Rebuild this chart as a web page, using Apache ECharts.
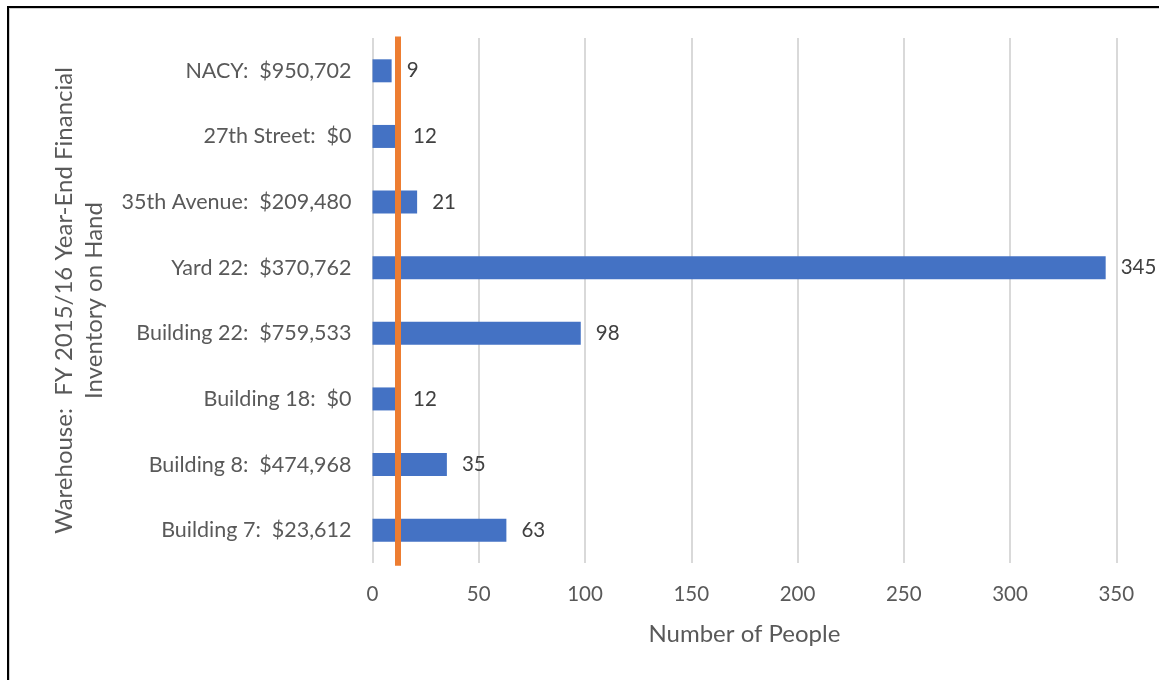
<!DOCTYPE html>
<html>
<head>
<meta charset="utf-8">
<script src="https://cdn.jsdelivr.net/npm/echarts@6/dist/echarts.min.js"></script>
<style>
  html, body { margin: 0; padding: 0; background: #fff; }
  #frame { position: absolute; left: 7px; top: 6px; width: 1200px; height: 720px;
           border-left: 2px solid #000; border-top: 2px solid #000;
           box-shadow: 1px 1px 0 #cfcfcf inset; }
  #chart { position: absolute; left: 0; top: 0; width: 1159px; height: 680px; }
</style>
</head>
<body>
<div id="frame"></div>
<div id="chart"></div>
<script>
// Warehouses (bottom to top) with year-end inventory value in the label
const warehouses = [
  'Building 7:  $23,612',
  'Building 8:  $474,968',
  'Building 18:  $0',
  'Building 22:  $759,533',
  'Yard 22:  $370,762',
  '35th Avenue:  $209,480',
  '27th Street:  $0',
  'NACY:  $950,702'
];
// Number of people per warehouse
const people = [63, 35, 12, 98, 345, 21, 12, 9];
// Reference level drawn as the vertical orange line
const referenceLevel = 12;
const xTicks = { min: 0, max: 350, interval: 50 };

const font = 'Lato, "Open Sans", sans-serif';
const chart = echarts.init(document.getElementById('chart'), null, { renderer: 'canvas' });

chart.setOption({
  animation: false,
  grid: { left: 372.5, right: 42.7, top: 38, bottom: 117, containLabel: false },
  xAxis: {
    type: 'value',
    min: xTicks.min, max: xTicks.max, interval: xTicks.interval,
    name: 'Number of People',
    nameLocation: 'middle',
    nameGap: 59,
    nameTextStyle: { fontFamily: font, fontSize: 24, color: '#595959' },
    axisLine: { show: false },
    axisTick: { show: false },
    axisLabel: { fontFamily: font, fontSize: 20.5, color: '#595959', margin: 21 },
    splitLine: { show: true, lineStyle: { color: '#d9d9d9', width: 2 } }
  },
  yAxis: [{
    type: 'category',
    data: warehouses,
    name: 'Warehouse:  FY 2015/16 Year-End Financial\nInventory on Hand',
    nameLocation: 'middle',
    nameRotate: 90,
    nameGap: 263,
    nameTextStyle: { fontFamily: font, fontSize: 24, color: '#595959', lineHeight: 30, align: 'center' },
    axisLine: { show: false },
    axisTick: { show: false },
    axisLabel: { fontFamily: font, fontSize: 21.5, color: '#595959', margin: 21 },
    splitLine: { show: false }
  }, {
    type: 'value',
    min: 0, max: 1,
    show: false
  }],
  series: [{
    type: 'bar',
    data: people,
    barWidth: 23,
    itemStyle: { color: '#4472c4' },
    label: {
      show: true, position: 'right', distance: 15,
      fontFamily: font, fontSize: 20.5, color: '#404040'
    },
    z: 2
  }, {
    type: 'line',
    yAxisIndex: 1,
    data: [[referenceLevel, -0.005], [referenceLevel, 1.003]],
    showSymbol: false,
    clip: false,
    lineStyle: { color: '#ed7d31', width: 6 },
    z: 3
  }]
});
</script>
</body>
</html>
